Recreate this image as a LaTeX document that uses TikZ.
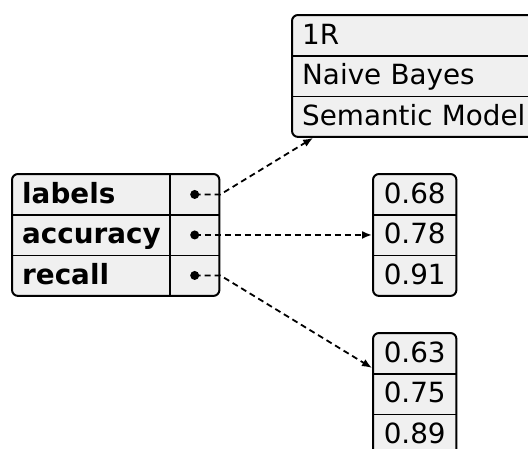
\documentclass[tikz,border=0pt]{standalone}
\usepackage{fontspec}
\setmainfont{DejaVu Sans}
\usetikzlibrary{fit,backgrounds,arrows.meta}
\tikzset{
  cell/.style={inner sep=0pt,minimum height=40.5pt,text height=19.5pt,text depth=2.1pt,anchor=north west},
  leftcell/.style={cell,inner xsep=10pt,text width=#1,align=left},
  portcell/.style={cell,minimum width=49pt},
  valcell/.style={cell,minimum width=83pt},
  record/.style={draw,line width=2pt,rounded corners=6pt,fill=gray!12,inner sep=0pt},
  divider/.style={line width=1.5pt},
  portdot/.style={circle,fill,inner sep=0pt,minimum size=9pt},
  link/.style={line width=1.8pt,dash pattern=on 6pt off 4pt,-{Latex[length=10pt,width=8pt]}}
}
\begin{document}
\begin{tikzpicture}[x=1pt,y=-1pt,font=\fontsize{27.8pt}{33pt}\selectfont]
\useasboundingbox (0,0) rectangle (528,448);
\foreach \i/\t in {0/labels,1/accuracy,2/recall}{
  \node[leftcell=138pt] (k\i) at (12,174+40.5*\i) {\bfseries \t};
  \node[portcell] (p\i) at (170,174+40.5*\i) {};
  \node[portdot] (d\i) at (p\i.center) {};
}
\foreach \i/\t in {0/1R,1/Naive Bayes,2/Semantic Model}
  \node[leftcell=225pt] (t\i) at (292,15+40.5*\i) {\t};
\foreach \i/\t in {0/0.68,1/0.78,2/0.91}
  \node[valcell] (a\i) at (373,174+40.5*\i) {\t};
\foreach \i/\t in {0/0.63,1/0.75,2/0.89}
  \node[valcell] (r\i) at (373,333+40.5*\i) {\t};
\begin{scope}[on background layer]
  \node[record,fit=(k0)(p2)] (keys) {};
  \node[record,fit=(t0)(t2)] (models) {};
  \node[record,fit=(a0)(a2)] (accs) {};
  \node[record,fit=(r0)(r2)] (recs) {};
\end{scope}
\draw[divider] (p0.north west) -- (p2.south west);
\foreach \i in {0,1}{
  \draw[divider] (k\i.south west) -- (p\i.south east);
  \draw[divider] (t\i.south west) -- (t\i.south east);
  \draw[divider] (a\i.south west) -- (a\i.south east);
  \draw[divider] (r\i.south west) -- (r\i.south east);
}
\draw[link] (d0.center) -- (d0.center -| keys.east) -- (models);
\draw[link] (d1.center) -- (d1.center -| keys.east) -- (accs);
\draw[link] (d2.center) -- (d2.center -| keys.east) -- (recs);
\end{tikzpicture}
\end{document}
